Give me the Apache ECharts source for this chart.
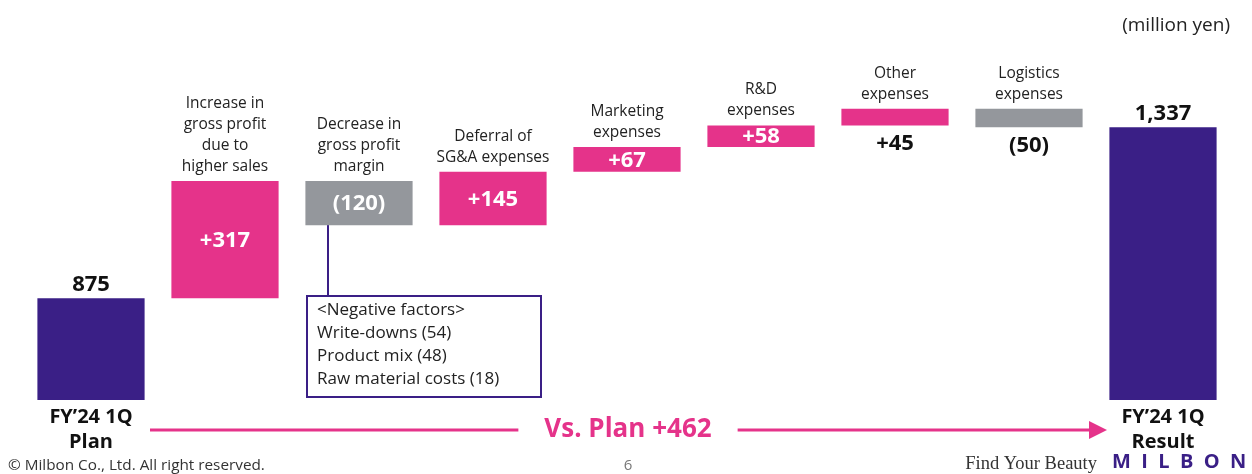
<!DOCTYPE html>
<html>
<head>
<meta charset="utf-8">
<script src="https://cdn.jsdelivr.net/npm/echarts@6/dist/echarts.min.js"></script>
<style>
html,body{margin:0;padding:0;background:#fff;}
#chart{width:1252px;height:474px;}
</style>
</head>
<body>
<div id="chart"></div>
<script>
// ---- data ----
const categories = [
  'FY\u201924 1Q\nPlan',
  'Increase in\ngross profit\ndue to\nhigher sales',
  'Decrease in\ngross profit\nmargin',
  'Deferral of\nSG&A expenses',
  'Marketing\nexpenses',
  'R&D\nexpenses',
  'Other\nexpenses',
  'Logistics\nexpenses',
  'FY\u201924 1Q\nResult'
];
const values = [875, 317, -120, 145, 67, 58, 45, -50, 1337];
const isTotal = [true, false, false, false, false, false, false, false, true];
const valueLabels = ['875', '+317', '(120)', '+145', '+67', '+58', '+45', '(50)', '1,337'];
const negativeFactors = ['<Negative factors>', 'Write-downs (54)', 'Product mix (48)', 'Raw material costs (18)'];
const unitLabel = '(million yen)';
const diffLabel = 'Vs. Plan +462';

// ---- styling ----
const PURPLE = '#3a1f86';
const PINK = '#e5338a';
const GRAY = '#94979c';
const Y_MIN = 600, Y_MAX = 1600;
const labelPlacement = ['top', 'inside', 'inside', 'inside', 'inside', 'inside', 'below', 'below', 'top'];
const FONT = '"Open Sans", "Noto Sans", sans-serif';

// build waterfall ranges
let running = 0;
const seriesData = values.map((v, i) => {
  let low, high;
  if (isTotal[i]) { low = Y_MIN; high = v; running = v; }
  else { const s = running; running += v; low = Math.min(s, running); high = Math.max(s, running); }
  return [i, low, high];
});

function colorFor(i) {
  if (isTotal[i]) return PURPLE;
  return values[i] < 0 ? GRAY : PINK;
}

const chart = echarts.init(document.getElementById('chart'), null, {renderer: 'canvas'});

const option = {
  animation: false,
  backgroundColor: '#fff',
  grid: {left: 24, right: 22, top: 30, bottom: 74},
  xAxis: {
    type: 'category',
    data: categories,
    axisLine: {show: false},
    axisTick: {show: false},
    axisLabel: {
      interval: 0,
      margin: 5,
      color: '#111',
      fontFamily: FONT,
      fontWeight: 'bold',
      fontSize: 20,
      lineHeight: 25,
      formatter: (val, idx) => isTotal[idx] ? val : ''
    }
  },
  yAxis: {type: 'value', min: Y_MIN, max: Y_MAX, show: false, splitLine: {show: false}},
  series: [{
    type: 'custom',
    data: seriesData,
    encode: {x: 0, y: [1, 2]},
    renderItem: function (params, api) {
      const i = api.value(0);
      const top = api.coord([i, api.value(2)]);
      const bot = api.coord([i, api.value(1)]);
      const bw = api.size([1, 0])[0] * 0.8;
      const x0 = top[0] - bw / 2;
      const children = [{
        type: 'rect',
        shape: {x: x0, y: top[1], width: bw, height: bot[1] - top[1]},
        style: {fill: colorFor(i)}
      }];
      const place = labelPlacement[i];
      let ly, vAlign, col;
      if (place === 'top') { ly = top[1] - 3; vAlign = 'bottom'; col = '#111'; }
      else if (place === 'inside') { ly = (top[1] + bot[1]) / 2 + 1; vAlign = 'middle'; col = '#fff'; }
      else { ly = bot[1] + 7; vAlign = 'top'; col = '#111'; }
      children.push({
        type: 'text',
        style: {
          x: top[0], y: ly, text: valueLabels[i],
          fill: col, align: 'center', verticalAlign: vAlign,
          font: 'bold 22px ' + FONT
        }
      });
      if (!isTotal[i]) {
        children.push({
          type: 'text',
          style: {
            x: top[0], y: top[1] - 4, text: categories[i],
            fill: '#222', align: 'center', verticalAlign: 'bottom',
            font: '15.5px ' + FONT, lineHeight: 21
          }
        });
      }
      return {type: 'group', children: children};
    }
  }],
  graphic: [
    {type: 'text', right: 22, top: 16, style: {text: unitLabel, font: '19px ' + FONT, fill: '#222'}},
    // connector + note box
    {type: 'line', shape: {x1: 328, y1: 224, x2: 328, y2: 296}, style: {stroke: PURPLE, lineWidth: 2}},
    {type: 'rect', shape: {x: 307, y: 296, width: 234, height: 101}, style: {fill: '#fff', stroke: PURPLE, lineWidth: 2}},
    {type: 'text', x: 317, y: 299, style: {text: negativeFactors.join('\n'), font: '17px ' + FONT, fill: '#222', lineHeight: 23}},
    // comparison arrow
    {type: 'line', shape: {x1: 150, y1: 430, x2: 1092, y2: 430}, style: {stroke: PINK, lineWidth: 3}},
    {type: 'polygon', shape: {points: [[1089, 421], [1107, 430], [1089, 439]]}, style: {fill: PINK}},
    {type: 'text', x: 628, y: 430, style: {text: diffLabel, font: 'bold 26px ' + FONT, fill: PINK, align: 'center', verticalAlign: 'middle', backgroundColor: '#fff', padding: [0, 26]}},
    // footer
    {type: 'text', x: 8, y: 458, style: {text: '\u00a9 Milbon Co., Ltd. All right reserved.', font: '15.3px ' + FONT, fill: '#333'}},
    {type: 'text', x: 628, y: 458, style: {text: '6', font: '15px ' + FONT, fill: '#777', align: 'center'}},
    {type: 'text', x: 1097, y: 455, style: {text: 'Find Your Beauty', font: '18.5px "Liberation Serif", "DejaVu Serif", serif', fill: '#333', align: 'right'}},
    {type: 'text', x: 1112, y: 452, style: {text: 'M  I  L  B  O  N', font: 'bold 20px ' + FONT, fill: PURPLE}}
  ]
};
chart.setOption(option);
</script>
</body>
</html>
